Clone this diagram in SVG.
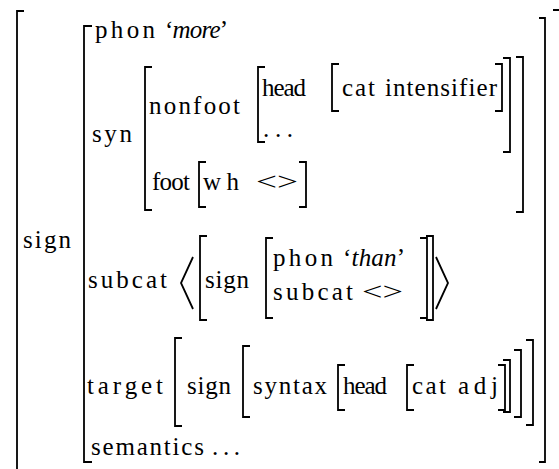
<svg xmlns="http://www.w3.org/2000/svg" width="559" height="469" viewBox="0 0 559 469">
  <style>
    .t { font-family: "Liberation Serif", "Times New Roman", serif; font-size: 25px; fill: #000; }
    .i { font-style: italic; }
    .b { fill: none; stroke: #000; stroke-width: 1.8; stroke-linejoin: miter; stroke-linecap: butt; }
  </style>
  <rect width="559" height="469" fill="#fff"/>

  <!-- outermost sign bracket -->
  <g id="outer">
    <path class="b" d="M24 11 H17 V480"/>
    <path class="b" d="M553 10 H560 V480"/>
    <text class="t" x="23" y="248" textLength="48">sign</text>
  </g>

  <!-- value of the outer sign: phon / syn / subcat / target / semantics -->
  <g id="sign-value">
    <path class="b" d="M92 26 H84 V462 H92"/>
    <path class="b" d="M539 18 H545 V462 H539"/>
  </g>

  <g id="phon">
    <text class="t" x="95" y="38" textLength="60">phon</text>
    <text class="t" x="165" y="38" textLength="63">‘<tspan class="i">more</tspan>’</text>
  </g>

  <g id="syn">
    <text class="t" x="92" y="142" textLength="40">syn</text>
    <path class="b" d="M152 67 H145 V210 H152"/>
    <path class="b" d="M516 57 H523 V212 H516"/>
    <text class="t" x="149" y="114" textLength="91">nonfoot</text>
    <!-- nonfoot value -->
    <path class="b" d="M265 67 H258 V142 H265"/>
    <path class="b" d="M503 58 H510 V152 H503"/>
    <text class="t" x="262" y="96" textLength="44">head</text>
    <path class="b" d="M339 64 H332 V111 H339"/>
    <path class="b" d="M495 64 H502 V111 H495"/>
    <text class="t" x="342" y="96" textLength="33">cat</text>
    <text class="t" x="385" y="96" textLength="112">intensifier</text>
    <text class="t" x="263" y="137" textLength="30">...</text>
    <!-- foot -->
    <text class="t" x="152" y="190" textLength="38">foot</text>
    <path class="b" d="M206 162 H199 V207 H206"/>
    <path class="b" d="M299 162 H306 V207 H299"/>
    <text class="t" x="203" y="190" textLength="36">wh</text>
    <text class="t" x="256" y="190" textLength="42" lengthAdjust="spacingAndGlyphs">&lt;&gt;</text>
  </g>

  <g id="subcat">
    <text class="t" x="88" y="288" textLength="79">subcat</text>
    <path class="b" d="M193 257 L181 283 L193 309"/>
    <path class="b" d="M207 236 H200 V320 H207"/>
    <text class="t" x="205" y="288" textLength="44">sign</text>
    <path class="b" d="M273 238 H266 V318 H273"/>
    <text class="t" x="273" y="266" textLength="60">phon</text>
    <text class="t" x="343" y="266" textLength="62">‘<tspan class="i">than</tspan>’</text>
    <text class="t" x="273" y="300" textLength="80">subcat</text>
    <text class="t" x="362" y="300" textLength="41" lengthAdjust="spacingAndGlyphs">&lt;&gt;</text>
    <path class="b" d="M420 238 H427 V318 H420"/>
    <path class="b" d="M426 236 H433 V320 H426"/>
    <path class="b" d="M436 257 L448 283 L436 309"/>
  </g>

  <g id="target">
    <text class="t" x="87" y="394" textLength="76">target</text>
    <path class="b" d="M182 338 H175 V426 H182"/>
    <text class="t" x="187" y="394" textLength="44">sign</text>
    <path class="b" d="M250 346 H243 V417 H250"/>
    <text class="t" x="253" y="394" textLength="74">syntax</text>
    <path class="b" d="M345 365 H338 V410 H345"/>
    <text class="t" x="343" y="394" textLength="44">head</text>
    <path class="b" d="M414 365 H407 V410 H414"/>
    <text class="t" x="412" y="394" textLength="34">cat</text>
    <text class="t" x="458" y="394" textLength="40">adj</text>
    <path class="b" d="M498 365 H505 V410 H498"/>
    <path class="b" d="M503 360 H510 V412 H503"/>
    <path class="b" d="M514 350 H521 V417 H514"/>
    <path class="b" d="M526 340 H533 V425 H526"/>
  </g>

  <g id="semantics">
    <text class="t" x="91" y="455" textLength="113">semantics</text>
    <text class="t" x="212" y="455" textLength="28">...</text>
  </g>
</svg>
